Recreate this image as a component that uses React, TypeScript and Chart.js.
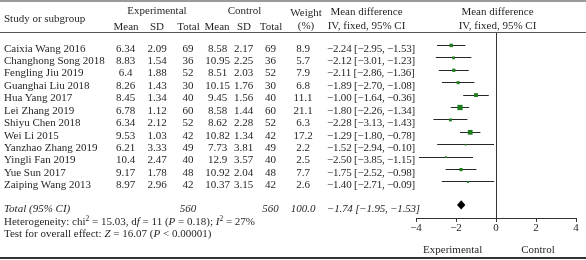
import React, { useEffect, useRef } from "react";
import { Chart, registerables } from "chart.js";

Chart.register(...registerables);

const studies = [
  "Caixia Wang 2016", "Changhong Song 2018", "Fengling Jiu 2019", "Guanghai Liu 2018",
  "Hua Yang 2017", "Lei Zhang 2019", "Shiyu Chen 2018", "Wei Li 2015",
  "Yanzhao Zhang 2019", "Yingli Fan 2019", "Yue Sun 2017", "Zaiping Wang 2013",
];
const expMean = [6.34, 8.83, 6.4, 8.26, 8.45, 6.78, 6.34, 9.53, 6.21, 10.4, 9.17, 8.97];
const expSD = [2.09, 1.54, 1.88, 1.43, 1.34, 1.12, 2.12, 1.03, 3.33, 2.47, 1.78, 2.96];
const expN = [69, 36, 52, 30, 40, 60, 52, 42, 49, 40, 48, 42];
const ctlMean = [8.58, 10.95, 8.51, 10.15, 9.45, 8.58, 8.62, 10.82, 7.73, 12.9, 10.92, 10.37];
const ctlSD = [2.17, 2.25, 2.03, 1.76, 1.56, 1.44, 2.28, 1.34, 3.81, 3.57, 2.04, 3.15];
const ctlN = [69, 36, 52, 30, 40, 60, 52, 42, 49, 40, 48, 42];
const weight = [8.9, 5.7, 7.9, 6.8, 11.1, 21.1, 6.3, 17.2, 2.2, 2.5, 7.7, 2.6];
const md = [-2.24, -2.12, -2.11, -1.89, -1.0, -1.8, -2.28, -1.29, -1.52, -2.5, -1.75, -1.4];
const mdLo = [-2.95, -3.01, -2.86, -2.7, -1.64, -2.26, -3.13, -1.8, -2.94, -3.85, -2.52, -2.71];
const mdHi = [-1.53, -1.23, -1.36, -1.08, -0.36, -1.34, -1.43, -0.78, -0.1, -1.15, -0.98, -0.09];
const totalExpN = 560;
const totalCtlN = 560;
const totalWeight = 100.0;
const totalMd = -1.74;
const totalLo = -1.95;
const totalHi = -1.53;
const xTicks = [-4, -2, 0, 2, 4];

const FONT = '"Liberation Serif", "DejaVu Serif", "Times New Roman", serif';
const INK = "#231f20";
const ROW0 = 47.6;
const ROWH = 12.42;
const TOTAL_ROW = studies.length + 0.85;

const minus = (s: string) => s.replace(/-/g, "\u2212");
const f2 = (v: number) => minus(v.toFixed(2));

function T({ x, y, a = "l", it, ls, children }: any) {
  const style: any = {
    position: "absolute",
    top: y - 7,
    height: 14,
    lineHeight: "14px",
    whiteSpace: "nowrap",
    fontStyle: it ? "italic" : "normal",
  };
  if (ls !== undefined) style.letterSpacing = ls;
  if (a === "l") style.left = x;
  else if (a === "c") {
    style.left = x - 80;
    style.width = 160;
    style.textAlign = "center";
  } else style.right = 586 - x;
  return <div style={style}>{children}</div>;
}

const sup = (s: string) => (
  <span style={{ fontSize: 7.5, position: "relative", top: -4 }}>{s}</span>
);

export default function App() {
  const ref = useRef<HTMLCanvasElement | null>(null);

  useEffect(() => {
    document.body.style.margin = "0";
    const canvas = ref.current;
    if (!canvas) return;

    const squares = {
      type: "scatter" as const,
      data: studies.map((_, i) => ({ x: md[i], y: i })),
      pointStyle: "rect",
      pointRadius: weight.map((w) => (1.15 * Math.sqrt(w)) / 1.414),
      backgroundColor: "#1e7d1e",
      borderColor: "#1e7d1e",
      borderWidth: 0,
    };

    const ciPlugin = {
      id: "ciLines",
      beforeDatasetsDraw(chart: any) {
        const { ctx, scales } = chart;
        const xs = scales.x;
        const ys = scales.y;
        ctx.save();
        ctx.strokeStyle = "#262626";
        ctx.lineWidth = 1;
        studies.forEach((_, i) => {
          const y = Math.round(ys.getPixelForValue(i) - 0.5) + 0.5;
          ctx.beginPath();
          ctx.moveTo(xs.getPixelForValue(mdLo[i]), y);
          ctx.lineTo(xs.getPixelForValue(mdHi[i]), y);
          ctx.stroke();
        });
        ctx.restore();
      },
    };

    const diamondPlugin = {
      id: "diamond",
      afterDatasetsDraw(chart: any) {
        const { ctx, scales } = chart;
        const xs = scales.x;
        const ys = scales.y;
        const yc = ys.getPixelForValue(TOTAL_ROW);
        const h = 4.6;
        ctx.save();
        ctx.fillStyle = "#000";
        ctx.beginPath();
        ctx.moveTo(xs.getPixelForValue(totalLo), yc);
        ctx.lineTo(xs.getPixelForValue(totalMd), yc - h);
        ctx.lineTo(xs.getPixelForValue(totalHi), yc);
        ctx.lineTo(xs.getPixelForValue(totalMd), yc + h);
        ctx.closePath();
        ctx.fill();
        ctx.restore();
      },
    };

    const chart = new Chart(canvas, {
      type: "scatter",
      data: { datasets: [squares] as any },
      options: {
        animation: false,
        responsive: false,
        events: [],
        layout: { padding: { left: 416, right: 10, top: 33, bottom: 0 } },
        plugins: { legend: { display: false }, tooltip: { enabled: false } },
        scales: {
          x: {
            type: "linear",
            min: xTicks[0],
            max: xTicks[xTicks.length - 1],
            afterBuildTicks: (s: any) => {
              s.ticks = xTicks.map((v) => ({ value: v }));
            },
            ticks: {
              callback: (v: any) => minus(String(v)),
              font: { family: FONT, size: 11 },
              color: INK,
              padding: 0,
              maxRotation: 0,
            },
            grid: {
              color: (c: any) => (c.tick && c.tick.value === 0 ? "#333" : "rgba(0,0,0,0)"),
              tickColor: "#333",
              tickLength: 4,
              lineWidth: 1,
            },
            border: { display: true, color: "#333", width: 1 },
            afterFit: (s: any) => {
              s.height = 42;
            },
          },
          y: {
            type: "linear",
            display: false,
            min: -1.0,
            max: 13.9,
            reverse: true,
          },
        },
      } as any,
      plugins: [ciPlugin, diamondPlugin],
    });
    return () => chart.destroy();
  }, []);

  const rowY = (i: number) => ROW0 + ROWH * i;

  return (
    <div
      style={{
        position: "fixed",
        left: 0,
        top: 0,
        width: 586,
        height: 260,
        background: "#fff",
        fontFamily: FONT,
        fontSize: 11,
        color: INK,
        overflow: "hidden",
      }}
    >
      <canvas
        ref={ref}
        width={586}
        height={260}
        style={{ position: "absolute", left: 0, top: 0, width: 586, height: 260 }}
      />
      <div style={{ position: "absolute", left: 0, top: 0, width: 586, height: 2, background: "#9a9a9a" }} />
      <div style={{ position: "absolute", left: 0, top: 32, width: 586, height: 1, background: "#555" }} />
      <div style={{ position: "absolute", left: 0, top: 257, width: 586, height: 2, background: "#333" }} />

      {/* header */}
      <T x={4} y={18.3}>Study or subgroup</T>
      <T x={157} y={10} a="c">Experimental</T>
      <T x={244.5} y={10} a="c">Control</T>
      <T x={126} y={25.7} a="c">Mean</T>
      <T x={157} y={25.7} a="c">SD</T>
      <T x={188.5} y={25.7} a="c">Total</T>
      <T x={217} y={25.7} a="c">Mean</T>
      <T x={244} y={25.7} a="c">SD</T>
      <T x={271} y={25.7} a="c">Total</T>
      <T x={306} y={11.5} a="c">Weight</T>
      <T x={306} y={25} a="c">(%)</T>
      <T x={366.5} y={10.7} a="c">Mean difference</T>
      <T x={366.5} y={25} a="c">IV, fixed, 95% CI</T>
      <T x={497.5} y={10.7} a="c">Mean difference</T>
      <T x={497.5} y={25} a="c">IV, fixed, 95% CI</T>

      {studies.map((s, i) => (
        <React.Fragment key={s}>
          <T x={4} y={rowY(i)}>{s}</T>
          <T x={125.5} y={rowY(i)} a="c">{String(expMean[i])}</T>
          <T x={157} y={rowY(i)} a="c">{String(expSD[i])}</T>
          <T x={188} y={rowY(i)} a="c">{String(expN[i])}</T>
          <T x={217.5} y={rowY(i)} a="c">{String(ctlMean[i])}</T>
          <T x={243.5} y={rowY(i)} a="c">{String(ctlSD[i])}</T>
          <T x={270.5} y={rowY(i)} a="c">{String(ctlN[i])}</T>
          <T x={303} y={rowY(i)} a="c">{weight[i].toFixed(1)}</T>
          <T x={327} y={rowY(i)} ls={-0.2}>
            {f2(md[i])} [{f2(mdLo[i])}, {f2(mdHi[i])}]
          </T>
        </React.Fragment>
      ))}

      {/* total */}
      <T x={4} y={207.7} it>Total (95% CI)</T>
      <T x={188} y={207.7} a="c" it>{String(totalExpN)}</T>
      <T x={270.5} y={207.7} a="c" it>{String(totalCtlN)}</T>
      <T x={303} y={207.7} a="c" it>{totalWeight.toFixed(1)}</T>
      <T x={327} y={207.7} it ls={-0.2}>
        {f2(totalMd)} [{f2(totalLo)}, {f2(totalHi)}]
      </T>
      <T x={4} y={220.8}>
        Heterogeneity: chi{sup("2")} = 15.03, d<i>f</i> = 11 (<i>P</i> = 0.18); <i>I</i>
        {sup("2")} = 27%
      </T>
      <T x={4} y={233.3}>
        Test for overall effect: <i>Z</i> = 16.07 (<i>P</i> &lt; 0.00001)
      </T>

      <T x={452.7} y={249.3} a="c">Experimental</T>
      <T x={538} y={249.3} a="c">Control</T>
    </div>
  );
}
